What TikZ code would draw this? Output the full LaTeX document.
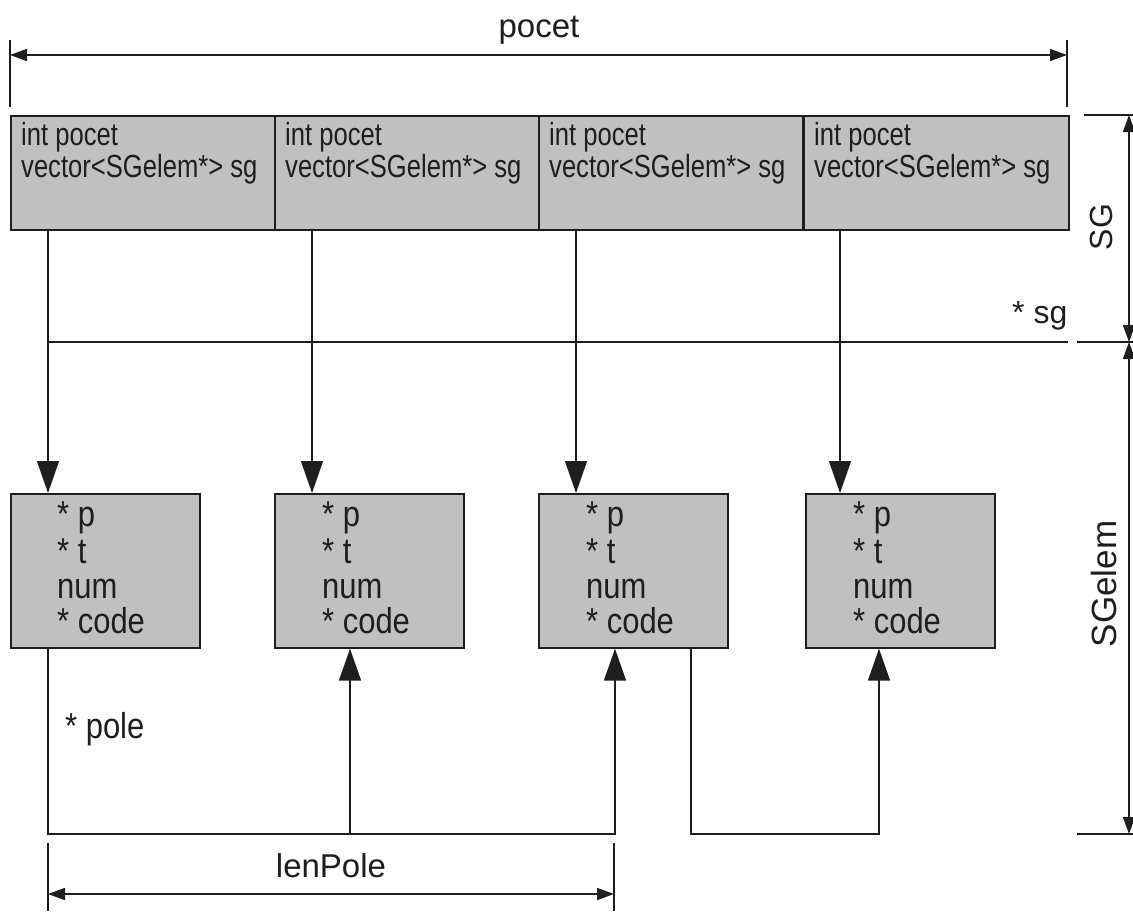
\documentclass[tikz,border=0pt]{standalone}
\usepackage{fontspec}
\setmainfont{Liberation Sans}
\newfontfamily\condfont[FakeStretch=0.8]{Liberation Sans}
\newfontfamily\condfontb[FakeStretch=0.86]{Liberation Sans}
\usetikzlibrary{arrows.meta}
\definecolor{boxgray}{RGB}{192,192,192}
\definecolor{ink}{RGB}{30,30,30}
\tikzset{
  box/.style={draw=ink, fill=boxgray, line width=1.7pt, anchor=north west, inner sep=0pt},
  toptxt/.style={anchor=base west, inner sep=0pt, text=ink, font=\condfont\fontsize{32}{32}\selectfont},
  lowtxt/.style={anchor=base west, inner sep=0pt, text=ink, font=\condfontb\fontsize{36}{36}\selectfont},
  lbl/.style={inner sep=0pt, text=ink, font=\fontsize{33}{33}\selectfont},
  conn/.style={draw=ink, line width=1.7pt, -{Triangle[length=32pt,width=22pt]}},
  plain/.style={draw=ink, line width=1.7pt},
  dimline/.style={draw=ink, line width=1.7pt, {Triangle[length=17pt,width=12pt]}-{Triangle[length=17pt,width=12pt]}},
}
\begin{document}
\begin{tikzpicture}[x=1pt,y=-1pt]
\useasboundingbox (0,0) rectangle (1133,911);
% top row of SG boxes
\node[box, minimum width=264pt, minimum height=114pt] (t1) at (10,115) {};
\node[box, minimum width=264pt, minimum height=114pt] (t2) at (274,115) {};
\node[box, minimum width=264pt, minimum height=114pt] (t3) at (538,115) {};
\node[box, minimum width=265pt, minimum height=114pt] (t4) at (803,115) {};
\foreach \i/\x in {1/21,2/285,3/549,4/814}{
  \node[toptxt] (t\i a) at (\x,145) {int pocet};
  \node[toptxt] (t\i b) at (\x,177) {vector<SGelem*> sg};
}
% lower SGelem boxes
\node[box, minimum width=189pt, minimum height=154pt] (b1) at (10,493) {};
\node[box, minimum width=189pt, minimum height=154pt] (b2) at (274,493) {};
\node[box, minimum width=189pt, minimum height=154pt] (b3) at (538,493) {};
\node[box, minimum width=189pt, minimum height=154pt] (b4) at (805,493) {};
\foreach \i/\x in {1/57,2/322,3/586,4/853}{
  \node[lowtxt] (b\i p) at (\x,526) {* p};
  \node[lowtxt] (b\i t) at (\x,563) {* t};
  \node[lowtxt] (b\i n) at (\x,598) {num};
  \node[lowtxt] (b\i c) at (\x,633) {* code};
}
% connector x positions
\coordinate (d1) at (48,342);
\coordinate (d2) at (312,342);
\coordinate (d3) at (576,342);
\coordinate (d4) at (840,342);
\coordinate (busR) at (1068,342);
% bus line and down arrows
\draw[plain] (d1) -- (busR);
\foreach \i in {1,2,3,4}{
  \draw[conn] (t\i.south -| d\i) -- (b\i.north -| d\i);
}
% bottom links
\coordinate (c1) at (48,834);
\coordinate (c2) at (350,834);
\coordinate (c3) at (615,834);
\coordinate (c4) at (691,834);
\coordinate (c5) at (879,834);
\draw[conn] (b1.south -| c1) -- (c1) -- (c3) -- (b3.south -| c3);
\draw[conn] (c2) -- (b2.south -| c2);
\draw[conn] (b3.south -| c4) -- (c4) -- (c5) -- (b4.south -| c5);
\node[lowtxt] (pole) at (65,738) {* pole};
% top dimension: pocet
\coordinate (pa1) at (10,40);
\coordinate (pa2) at (10,107);
\coordinate (pb1) at (1067,40);
\coordinate (pb2) at (1067,107);
\draw[plain] (pa1) -- (pa2);
\draw[plain] (pb1) -- (pb2);
\draw[dimline] (pa1 |- 0,55) -- (pb1 |- 0,55);
\node[lbl, anchor=base] (pocet) at (539,37) {pocet};
% right dimensions: SG and SGelem
\coordinate (r1) at (1084,115);
\coordinate (r2) at (1077,342);
\coordinate (r3) at (1077,834);
\coordinate (rE1) at (1133,115);
\coordinate (rE2) at (1133,342);
\coordinate (rE3) at (1133,834);
\draw[plain] (r1) -- (rE1);
\draw[plain] (r2) -- (rE2);
\draw[plain] (r3) -- (rE3);
\draw[dimline] (1129,115) -- (1129,342);
\draw[dimline] (1129,342) -- (1129,834);
\node[lbl, rotate=90, font=\fontsize{32}{32}\selectfont] (SG) at (1101,227) {SG};
\node[lbl, rotate=90, font=\fontsize{35}{35}\selectfont] (SGelem) at (1104,584) {SGelem};
\node[lbl, anchor=base west, font=\fontsize{32}{32}\selectfont] (sg) at (1012,323) {* sg};
% lenPole dimension
\coordinate (la1) at (48,843);
\coordinate (la2) at (48,911);
\coordinate (lb1) at (614,843);
\coordinate (lb2) at (614,911);
\draw[plain] (la1) -- (la2);
\draw[plain] (lb1) -- (lb2);
\draw[dimline] (48,894) -- (614,894);
\node[lbl, anchor=base] (lenPole) at (331,877) {lenPole};
\end{tikzpicture}
\end{document}
